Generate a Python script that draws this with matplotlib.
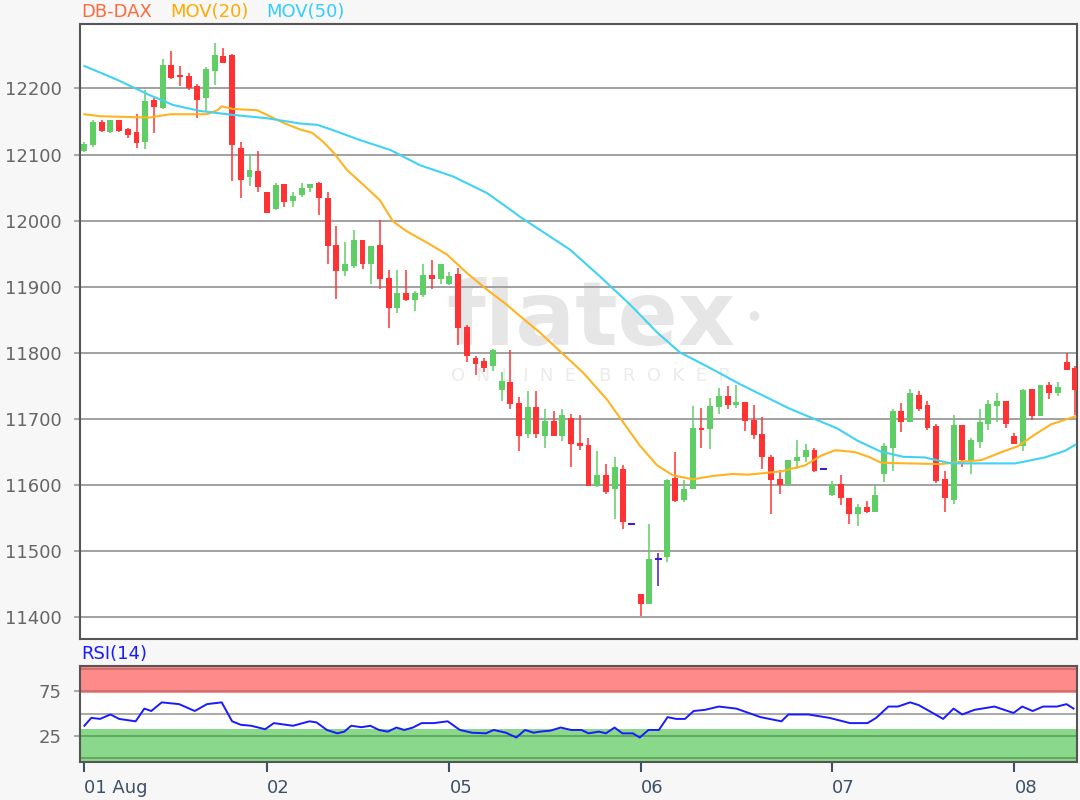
import numpy as np
import matplotlib
matplotlib.use("Agg")
import matplotlib.pyplot as plt

# DB-DAX hourly candles, 01 Aug - 08 Aug
opens = [12105, 12114, 12149, 12134, 12152, 12138, 12134, 12119, 12183, 12171,
         12235, 12220, 12219, 12204, 12186, 12226, 12249, 12250, 12110, 12066,
         12075, 12044, 12018, 12056, 12030, 12039, 12050, 12057, 12035, 11964,
         11924, 11932, 11971, 11935, 11964, 11913, 11868, 11891, 11880, 11887,
         11918, 11912, 11905, 11919, 11840, 11793, 11788, 11780, 11744, 11756,
         11725, 11677, 11719, 11675, 11697, 11674, 11701, 11664, 11661, 11599,
         11615, 11594, 11625, 11542, 11435, 11420, 11488, 11492, 11611, 11577,
         11594, 11687, 11685, 11718, 11735, 11722, 11726, 11698, 11677, 11643,
         11610, 11600, 11636, 11643, 11653, 11625, 11585, 11602, 11580, 11557,
         11567, 11560, 11617, 11657, 11713, 11696, 11736, 11721, 11689, 11610,
         11577, 11691, 11637, 11666, 11692, 11720, 11728, 11674, 11659, 11746,
         11704, 11752, 11740, 11786, 11777]
highs = [12119, 12152, 12152, 12153, 12153, 12140, 12162, 12198, 12186, 12244,
         12257, 12234, 12224, 12207, 12232, 12268, 12261, 12252, 12119, 12100,
         12105, 12044, 12057, 12056, 12044, 12057, 12056, 12059, 12044, 11992,
         11968, 11986, 11971, 11962, 12001, 11925, 11925, 11925, 11893, 11934,
         11940, 11935, 11923, 11929, 11842, 11795, 11793, 11806, 11771, 11804,
         11734, 11743, 11743, 11716, 11713, 11715, 11708, 11706, 11671, 11652,
         11632, 11643, 11630, 11542, 11436, 11541, 11498, 11610, 11651, 11608,
         11720, 11717, 11732, 11747, 11750, 11752, 11726, 11722, 11703, 11645,
         11623, 11638, 11668, 11662, 11656, 11625, 11606, 11616, 11580, 11571,
         11576, 11599, 11664, 11715, 11725, 11746, 11743, 11728, 11692, 11622,
         11706, 11691, 11671, 11716, 11729, 11740, 11728, 11679, 11746, 11746,
         11752, 11756, 11756, 11800, 11780]
lows = [12104, 12112, 12134, 12133, 12134, 12125, 12110, 12108, 12133, 12169,
        12214, 12204, 12198, 12156, 12166, 12205, 12238, 12060, 12034, 12052,
        12044, 12011, 12016, 12020, 12020, 12036, 12044, 12008, 11935, 11881,
        11917, 11928, 11927, 11905, 11896, 11838, 11860, 11878, 11863, 11885,
        11897, 11905, 11903, 11812, 11787, 11766, 11771, 11773, 11728, 11715,
        11652, 11671, 11671, 11656, 11675, 11667, 11628, 11654, 11599, 11598,
        11587, 11549, 11534, 11542, 11402, 11420, 11448, 11484, 11575, 11575,
        11594, 11657, 11655, 11708, 11716, 11717, 11682, 11670, 11625, 11557,
        11587, 11600, 11625, 11635, 11620, 11625, 11583, 11570, 11542, 11539,
        11558, 11559, 11605, 11622, 11680, 11696, 11712, 11684, 11604, 11560,
        11572, 11627, 11617, 11656, 11684, 11696, 11686, 11662, 11652, 11699,
        11704, 11731, 11735, 11775, 11706]
closes = [12116, 12150, 12135, 12152, 12135, 12129, 12117, 12181, 12172, 12235,
          12216, 12217, 12201, 12183, 12230, 12250, 12239, 12115, 12062, 12077,
          12051, 12012, 12054, 12029, 12038, 12049, 12056, 12035, 11962, 11924,
          11934, 11971, 11935, 11962, 11912, 11868, 11891, 11880, 11891, 11918,
          11912, 11934, 11917, 11838, 11795, 11783, 11777, 11804, 11758, 11723,
          11674, 11719, 11677, 11697, 11675, 11706, 11662, 11659, 11599, 11615,
          11589, 11628, 11544, 11542, 11420, 11488, 11488, 11608, 11576, 11595,
          11686, 11684, 11720, 11735, 11721, 11726, 11697, 11676, 11643, 11608,
          11600, 11638, 11643, 11653, 11621, 11625, 11602, 11580, 11557, 11567,
          11559, 11585, 11659, 11713, 11696, 11740, 11716, 11686, 11607, 11580,
          11691, 11638, 11669, 11695, 11723, 11728, 11692, 11662, 11744, 11704,
          11752, 11740, 11748, 11775, 11744]

day_labels = ['01 Aug', '02', '05', '06', '07', '08']
day_bars = [0, 21, 42, 64, 86, 107]

# moving averages as drawn (bar index, value)
ma20_bar = [0, 1.8, 7.5, 8.4, 9.9, 14.1, 15.3, 15.8, 17.1, 19.9, 21.0, 22.9, 24.8,
            26.2, 27.5, 28.6, 30.2, 31.7, 34.0, 35.5, 37.1, 39.4, 41.7, 44.0,
            46.3, 48.6, 50.1, 52.4, 55.1, 57.4, 60.1, 62.0, 63.9, 65.9, 67.7,
            70.0, 72.3, 74.6, 76.4, 80.2, 82.9, 84.8, 86.4, 88.7, 90.2, 91.7,
            94.8, 98.6, 100.5, 103.2, 105.5, 107.4, 109.4, 111.2, 114.0]
ma20_val = [12161, 12158, 12156, 12158, 12161, 12161, 12167, 12173, 12169, 12167,
            12160, 12148, 12138, 12133, 12119, 12104, 12077, 12059, 12031, 11999,
            11984, 11967, 11949, 11921, 11896, 11873, 11856, 11831, 11798, 11770,
            11730, 11695, 11660, 11630, 11615, 11609, 11614, 11617, 11616, 11621,
            11630, 11645, 11653, 11650, 11643, 11634, 11633, 11632, 11635, 11638,
            11650, 11659, 11677, 11692, 11704]
ma50_bar = [0, 3.8, 7.5, 10.2, 13.3, 17.1, 21.0, 24.8, 26.8, 28.6, 31.7, 35.2,
            38.6, 42.4, 46.3, 49.3, 50.1, 55.9, 59.3, 62.8, 65.9, 68.5, 71.6,
            75.4, 81.1, 86.6, 89.0, 91.6, 94.2, 96.7, 99.7, 102.5, 107.1, 110.5,
            112.8, 114.0]
ma50_val = [12234, 12213, 12190, 12175, 12166, 12160, 12155, 12147, 12145, 12137,
            12122, 12107, 12084, 12067, 12042, 12014, 12006, 11956, 11916, 11873,
            11831, 11801, 11780, 11753, 11716, 11686, 11667, 11651, 11643, 11642,
            11633, 11633, 11633, 11642, 11652, 11661]

rsi_bar = [0.0, 0.8, 1.8, 3.0, 4.0, 5.9, 6.9, 7.7, 8.9, 10.9, 12.7, 14.1, 15.8,
           17.0, 18.0, 19.2, 20.8, 21.8, 24.0, 25.9, 26.7, 27.9, 29.1, 29.9,
           30.7, 31.9, 32.9, 33.9, 34.9, 35.9, 36.8, 37.8, 38.8, 40.2, 41.8,
           43.2, 44.6, 46.2, 47.1, 48.5, 49.7, 50.7, 51.7, 52.4, 53.6, 54.8,
           56.0, 57.2, 58.0, 59.2, 60.0, 61.0, 61.9, 63.1, 63.9, 64.9, 66.1,
           67.1, 68.1, 69.1, 70.1, 71.4, 73.0, 75.0, 77.8, 80.2, 81.0, 83.3,
           85.7, 88.1, 90.1, 91.1, 92.5, 93.6, 95.0, 96.0, 97.6, 98.8, 100.0,
           101.0, 102.4, 104.7, 106.9, 107.9, 109.1, 110.3, 111.9, 113.0, 113.8]
rsi_val = [36.3, 45.2, 44.0, 49.0, 44.0, 41.3, 55.6, 52.9, 62.6, 60.6, 52.9, 60.6,
           62.6, 41.3, 37.4, 36.3, 32.4, 39.3, 36.3, 41.3, 40.1, 31.6, 27.8, 29.7,
           36.3, 34.7, 36.3, 31.6, 29.7, 34.3, 31.6, 34.3, 39.3, 39.3, 41.3, 31.6,
           28.5, 27.8, 31.6, 28.5, 23.1, 31.6, 28.5, 29.7, 30.8, 34.3, 31.6, 31.6,
           27.8, 29.7, 27.8, 34.3, 27.8, 27.8, 23.1, 31.6, 31.6, 46.0, 44.0, 44.0,
           52.9, 54.2, 57.9, 55.6, 46.0, 41.3, 49.0, 49.0, 45.2, 39.3, 39.3, 45.2,
           57.9, 57.9, 62.6, 59.5, 50.7, 44.0, 55.6, 49.0, 54.2, 57.9, 50.7, 57.9,
           52.9, 57.9, 57.9, 60.6, 55.6]

up_col = '#5fcf65'
down_col = '#ff3333'
flat_col = '#3a1fd0'
grid_col = '#9a9a9a'
spine_col = '#555555'

fig = plt.figure(figsize=(10.8, 8), dpi=100)
fig.patch.set_facecolor('#f7f7f7')
ax = fig.add_axes([0.0741, 0.2017, 0.9231, 0.7679])
ax2 = fig.add_axes([0.0741, 0.0475, 0.9231, 0.1206])

# watermark
ax.text(0.512, 0.478, 'flatex', transform=ax.transAxes, ha='center', va='baseline',
        fontsize=64, fontweight='bold', color='#e6e6e6', zorder=0)
ax.text(0.676, 0.528, '\u25cf', transform=ax.transAxes, ha='center', va='center',
        fontsize=9, color='#e6e6e6', zorder=0)
ax.text(0.513, 0.4275, 'O  N  L  I  N  E    B  R  O  K  E  R', transform=ax.transAxes,
        ha='center', va='center', fontsize=13, color='#ebebeb', zorder=0)

for y in range(11400, 12201, 100):
    ax.axhline(y, color=grid_col, lw=1.3, zorder=1)

for i in range(len(opens)):
    o, h, l, c = opens[i], highs[i], lows[i], closes[i]
    if c > o:
        col = up_col
    elif c < o:
        col = down_col
    else:
        col = flat_col
    ax.vlines(i, l, h, color=col, lw=1.1, zorder=3)
    if c == o:
        ax.hlines(o, i - 0.4, i + 0.4, color=col, lw=1.5, zorder=4)
    else:
        ax.bar(i, abs(c - o), bottom=min(o, c), width=0.68, color=col,
               linewidth=0, zorder=4)

ax.plot(ma20_bar, ma20_val, color='#ffb320', lw=1.5, zorder=5)
ax.plot(ma50_bar, ma50_val, color='#40d2f5', lw=1.5, zorder=5)

ax.set_xlim(-0.5, 114.2)
ax.set_ylim(11368, 12297)
ax.set_facecolor('white')
ax.set_xticks([])
ax.set_yticks(range(11400, 12201, 100))
ax.tick_params(axis='y', length=4, width=1.2, color=grid_col, pad=9,
               labelsize=13, labelcolor='#666666')
for s in ax.spines.values():
    s.set_color(spine_col)
    s.set_linewidth(1.5)

# RSI panel
ax2.set_facecolor('white')
ax2.axhspan(73, 110, color='#ff8a8a', lw=0, zorder=1)
ax2.axhspan(-10, 33, color='#8ad88a', lw=0, zorder=1)
ax2.axhline(100, color='#c86a6a', lw=1.2, zorder=2)
ax2.axhline(75, color='#c86a6a', lw=1.2, zorder=2)
ax2.axhline(50, color=grid_col, lw=1.2, zorder=2)
ax2.axhline(25, color='#5a9e5a', lw=1.2, zorder=2)
ax2.axhline(0, color='#5a9e5a', lw=1.2, zorder=2)
ax2.plot(rsi_bar, rsi_val, color='#1a1aff', lw=1.4, zorder=3)
ax2.set_xlim(-0.5, 114.2)
ax2.set_ylim(-4.4, 104)
ax2.set_yticks([25, 75])
ax2.tick_params(axis='y', length=4, width=1.2, color=grid_col, pad=9,
                labelsize=13, labelcolor='#666666')
ax2.set_xticks(day_bars)
ax2.set_xticklabels(day_labels)
ax2.tick_params(axis='x', length=7, width=1.5, color='#3d5166', pad=5,
                labelsize=13, labelcolor='#3d5166')
for lab in ax2.get_xticklabels():
    lab.set_ha('left')
for s in ax2.spines.values():
    s.set_color(spine_col)
    s.set_linewidth(1.5)

# titles
fig.text(81 / 1080, 1 - 12 / 800, 'DB-DAX', color='#ff6a3d', fontsize=13, va='center')
fig.text(170 / 1080, 1 - 12 / 800, 'MOV(20)', color='#ffaa00', fontsize=13, va='center')
fig.text(266 / 1080, 1 - 12 / 800, 'MOV(50)', color='#33ccff', fontsize=13, va='center')
fig.text(81 / 1080, 1 - 654 / 800, 'RSI(14)', color='#1a1aff', fontsize=13, va='center')

fig.savefig('out.png', dpi=100, facecolor=fig.get_facecolor())
